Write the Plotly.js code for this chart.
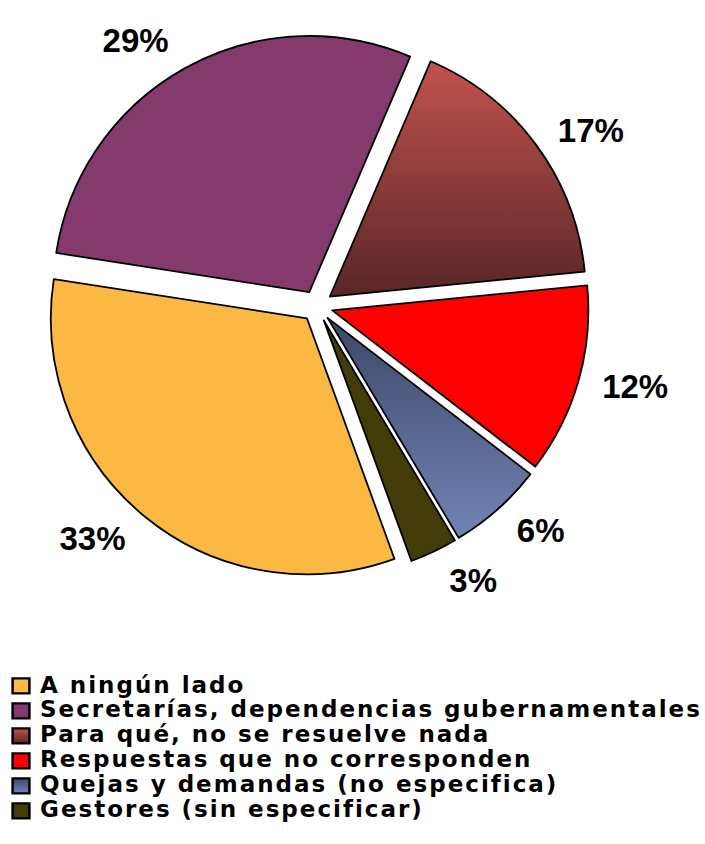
<!DOCTYPE html>
<html>
<head>
<meta charset="utf-8">
<script src="https://cdn.plot.ly/plotly-3.0.1.min.js"></script>
<style>
  html, body { margin: 0; padding: 0; background: #fff; }
  #chart { width: 705px; height: 844px; }
  .legendtext { font-size: 23px !important; letter-spacing: 2px; }
  path.legendpie { transform: translate(21px, 0px) scale(1.4, 1.25); }
</style>
</head>
<body>
<div id="chart"></div>
<script>
const categories = [
  "A ningún lado",
  "Secretarías, dependencias gubernamentales",
  "Para qué, no se resuelve nada",
  "Respuestas que no corresponden",
  "Quejas y demandas (no especifica)",
  "Gestores (sin especificar)"
];
const values = [33, 29, 17, 12, 6, 3];
const sliceColors = ["#FBB843", "#843A6C", "#8E3B3A", "#FF0000", "#56668F", "#423C08"];
// vertical gradient (top colour, bottom colour) for slices that are shaded; null = flat
const sliceGradients = [null, null, ["#C2524F", "#582626"], null, ["#3C4868", "#7284B5"], null];
const pulls = [0.062, 0.062, 0.062, 0.062, 0.062, 0.062];

const cx = 317 / 705, cy = 1 - 306 / 844;
function dom(halfPx) {
  return { x: [cx - halfPx / 705, cx + halfPx / 705], y: [cy - halfPx / 844, cy + halfPx / 844] };
}

const pieTrace = {
  type: "pie",
  labels: categories,
  values: values,
  sort: false,
  direction: "clockwise",
  rotation: 160,
  pull: pulls,
  marker: { colors: sliceColors, line: { color: "#000000", width: 1.8 } },
  textinfo: "none",
  hoverinfo: "label+percent",
  domain: dom(272)
};

// transparent companion ring that only carries the outside percentage labels
const labelTrace = {
  type: "pie",
  labels: categories,
  values: values,
  sort: false,
  direction: "clockwise",
  rotation: 160,
  pull: pulls,
  showlegend: false,
  marker: { colors: categories.map(() => "rgba(0,0,0,0)"), line: { width: 0 } },
  texttemplate: "%{value}%",
  textposition: "outside",
  textfont: { family: "Liberation Sans, Arial, sans-serif", size: 33, color: "#000000", weight: "bold" },
  hoverinfo: "skip",
  domain: dom(287)
};

const layout = {
  width: 705,
  height: 844,
  margin: { l: 0, r: 0, t: 0, b: 0 },
  paper_bgcolor: "#ffffff",
  showlegend: true,
  legend: {
    x: 0.0043, xanchor: "left",
    y: 0.208, yanchor: "top",
    orientation: "v",
    traceorder: "normal",
    font: { family: "DejaVu Sans", size: 16.9, color: "#000000", weight: "bold" },
    bgcolor: "rgba(0,0,0,0)"
  }
};

Plotly.newPlot("chart", [pieTrace, labelTrace], layout, { displayModeBar: false, staticPlot: true })
  .then(function (gd) {
    const svgNS = "http://www.w3.org/2000/svg";
    const svg = gd.querySelector("svg.main-svg");
    let defs = svg.querySelector("defs");
    if (!defs) { defs = document.createElementNS(svgNS, "defs"); svg.insertBefore(defs, svg.firstChild); }
    sliceGradients.forEach(function (g, i) {
      if (!g) return;
      const lg = document.createElementNS(svgNS, "linearGradient");
      lg.setAttribute("id", "sliceGrad" + i);
      lg.setAttribute("x1", "0"); lg.setAttribute("y1", "0");
      lg.setAttribute("x2", "0"); lg.setAttribute("y2", "1");
      [[0, g[0]], [1, g[1]]].forEach(function (s) {
        const st = document.createElementNS(svgNS, "stop");
        st.setAttribute("offset", s[0]);
        st.setAttribute("stop-color", s[1]);
        lg.appendChild(st);
      });
      defs.appendChild(lg);
    });
    const firstPie = gd.querySelectorAll(".pielayer .trace")[0];
    if (firstPie) {
      const slices = firstPie.querySelectorAll("g.slice path.surface");
      slices.forEach(function (p, k) {
        const idx = p.__data__ && p.__data__.i !== undefined ? p.__data__.i : k;
        if (sliceGradients[idx]) p.style.fill = "url(#sliceGrad" + idx + ")";
      });
    }
    gd.querySelectorAll("g.traces").forEach(function (item, k) {
      const sym = item.querySelector("path.legendpie");
      if (sym && sliceGradients[k]) sym.style.fill = "url(#sliceGrad" + k + ")";
    });
  });
</script>
</body>
</html>
